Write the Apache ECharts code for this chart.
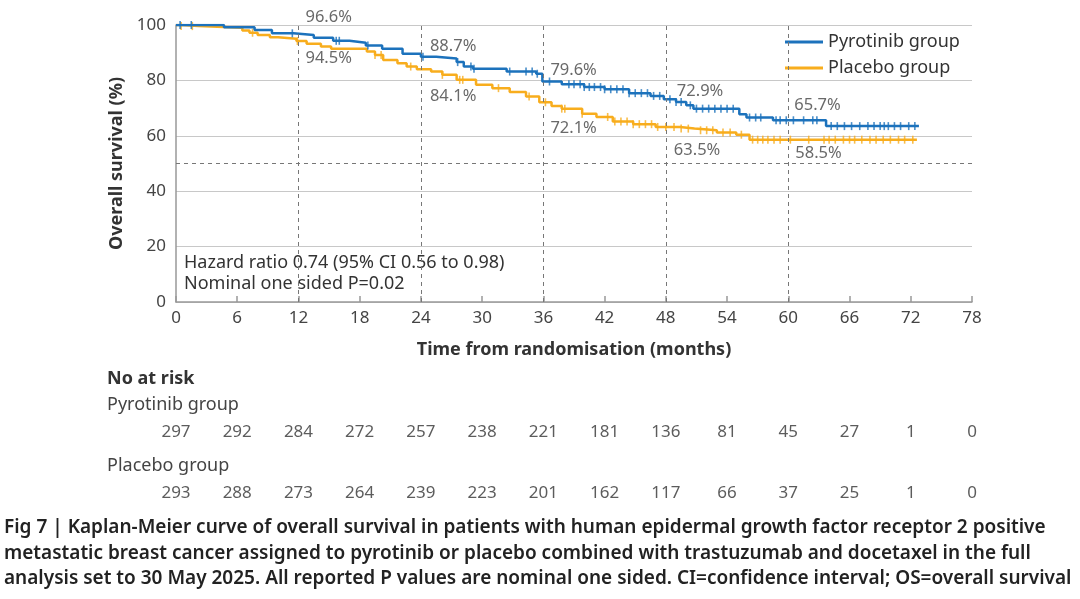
<!DOCTYPE html>
<html>
<head>
<meta charset="utf-8">
<title>Kaplan-Meier OS</title>
<script src="https://cdn.jsdelivr.net/npm/echarts@6/dist/echarts.min.js"></script>
<style>
  html, body { margin: 0; padding: 0; background: #fff; }
  #main { width: 1080px; height: 599px; }
</style>
</head>
<body>
<div id="main"></div>
<script>
// Kaplan-Meier 总生存曲线
var pyroTime = [0, 4.7, 7.7, 9.4, 11.5, 13.5, 15.4, 17.0, 18.6, 20.2, 22.2, 24.0, 25.5, 27.5, 28.2, 29.1, 32.4, 35.3, 35.9, 37.8, 40.0, 42.0, 44.4, 46.5, 47.8, 49.0, 50.0, 50.7, 55.2, 55.9, 58.5, 63.7, 72.8];
var pyroSurv = [100, 99.2, 98.2, 97.0, 96.4, 95.4, 94.3, 93.6, 92.6, 91.4, 89.6, 88.5, 87.9, 86.6, 85.0, 84.2, 83.2, 82.4, 79.6, 78.6, 77.6, 76.8, 75.4, 74.4, 73.2, 72.2, 71.0, 69.8, 67.8, 66.6, 65.6, 63.5, 63.5];
var placTime = [0, 0.5, 2.2, 6.5, 7.2, 8.0, 9.2, 10.0, 11.8, 12.8, 14.2, 15.2, 18.7, 19.5, 20.3, 21.7, 22.6, 23.6, 25.0, 26.1, 27.5, 29.4, 31.0, 32.7, 34.3, 35.6, 36.8, 37.8, 39.8, 41.2, 42.8, 44.8, 47.0, 49.4, 50.8, 53.0, 54.9, 56.2, 72.6];
var placSurv = [100, 99.6, 99.0, 98.0, 97.2, 96.4, 95.6, 95.0, 94.2, 93.2, 92.2, 91.4, 90.4, 89.2, 87.4, 86.2, 85.0, 84.0, 83.2, 82.0, 80.2, 78.4, 77.2, 75.8, 74.2, 72.1, 70.8, 69.8, 68.0, 66.8, 65.2, 64.2, 63.2, 62.6, 62.0, 61.2, 60.4, 58.6, 58.6];

// 删失时间
var pyroCensor = [0.4, 1.5, 11.4, 15.7, 16.0, 18.8, 24.2, 27.6, 28.9, 29.2, 32.7, 34.3, 34.9, 35.4, 36.6, 38.5, 39.0, 39.6, 40.0, 40.5, 41.0, 41.6, 42.0, 42.6, 43.2, 43.8, 44.4, 45.0, 45.6, 46.2, 46.8, 47.4, 48.4, 49.0, 49.5, 50.4, 51.0, 51.6, 52.2, 52.8, 53.4, 54.0, 54.6, 56.2, 56.8, 57.3, 58.8, 59.2, 59.8, 60.5, 61.5, 62.4, 62.8, 64.2, 64.8, 65.5, 66.2, 67.0, 67.8, 68.4, 69.0, 69.4, 69.8, 70.4, 71.0, 71.8, 72.4];
var placCensor = [0.5, 1.6, 7.5, 11.9, 19.5, 20.1, 23.0, 26.1, 27.8, 28.1, 31.6, 34.6, 36.2, 37.8, 38.1, 39.8, 42.3, 43.0, 43.6, 44.2, 44.8, 45.4, 46.0, 46.6, 47.2, 48.0, 48.8, 49.5, 50.2, 51.4, 52.0, 52.6, 53.6, 54.3, 55.4, 56.5, 57.0, 57.5, 58.0, 58.6, 59.2, 60.2, 62.0, 63.5, 64.0, 64.6, 65.4, 66.0, 66.5, 67.2, 68.0, 68.6, 69.3, 70.0, 70.8, 71.4, 72.2];

// 标志时间点
var landmarkTime = [12, 24, 36, 48, 60];
var pyroLandmark = [96.6, 88.7, 79.6, 72.9, 65.7];
var placLandmark = [94.5, 84.1, 72.1, 63.5, 58.5];

// 风险人数
var riskTime = [0, 6, 12, 18, 24, 30, 36, 42, 48, 54, 60, 66, 72, 78];
var pyroRisk = [297, 292, 284, 272, 257, 238, 221, 181, 136, 81, 45, 27, 1, 0];
var placRisk = [293, 288, 273, 264, 239, 223, 201, 162, 117, 66, 37, 25, 1, 0];
var groups = ['Pyrotinib group', 'Placebo group'];

var blue = '#1c72bc', orange = '#f8ad1d';
var font = 'Noto Sans';

function zip(xs, ys) {
    return xs.map(function (x, i) { return [x, ys[i]]; });
}
function survAt(times, surv, t) {
    var s = surv[0];
    for (var i = 0; i < times.length; i++) {
        if (times[i] <= t) s = surv[i];
    }
    return s;
}
function censorPoints(ct, times, surv) {
    return ct.map(function (t) { return [t, survAt(times, surv, t)]; });
}

// label offsets (layout only)
var pyroOffsets = [[7, -17], [9, -10], [7, -11], [11, -9], [6, -15]];
var placOffsets = [[7, 18], [9, 27], [7, 26], [8, 24], [7, 13]];
function landmarkData(vals, offsets) {
    return landmarkTime.map(function (t, i) {
        return {
            value: [t, vals[i]],
            label: { offset: offsets[i] }
        };
    });
}

function caption(text, top) {
    return { type: 'text', left: 4, top: top,
        style: { text: text, fontSize: 19, fontWeight: 600, fill: '#222', fontFamily: font } };
}

var myChart = echarts.init(document.getElementById('main'));
var option = {
    animation: false,
    textStyle: { fontFamily: font },
    grid: [
        { left: 176, right: 108, top: 25, bottom: 297 },
        { left: 176, right: 108, top: 402, height: 122 }
    ],
    legend: {
        orient: 'vertical',
        left: 780,
        top: 28,
        itemWidth: 38,
        itemHeight: 3,
        itemGap: 8,
        icon: 'rect',
        textStyle: { fontSize: 18, color: '#333', fontFamily: font },
        data: [
            { name: groups[0], itemStyle: { color: blue } },
            { name: groups[1], itemStyle: { color: orange } }
        ]
    },
    xAxis: [{
        type: 'value', gridIndex: 0,
        min: 0, max: 78, interval: 6,
        name: 'Time from randomisation (months)',
        nameLocation: 'middle', nameGap: 39,
        nameTextStyle: { fontSize: 18, fontWeight: 'bold', color: '#333' },
        axisLine: { lineStyle: { color: '#999', width: 1.5 } },
        axisTick: { inside: true, length: 6, lineStyle: { color: '#999', width: 1.5 } },
        axisLabel: { fontSize: 17, color: '#444', margin: 8 },
        splitLine: { show: false }
    }, {
        type: 'value', gridIndex: 1,
        min: 0, max: 78, show: false
    }],
    yAxis: [{
        type: 'value', gridIndex: 0,
        min: 0, max: 100, interval: 20,
        name: 'Overall survival (%)',
        nameLocation: 'middle', nameGap: 47,
        nameTextStyle: { fontSize: 18, fontWeight: 'bold', color: '#333' },
        axisLine: { show: true, lineStyle: { color: '#999', width: 1.5 } },
        axisTick: { show: false },
        axisLabel: { fontSize: 17, color: '#444', margin: 10 },
        splitLine: { lineStyle: { color: '#c8c8c8', width: 1.2 } }
    }, {
        type: 'category', gridIndex: 1,
        data: groups, inverse: true, show: false
    }],
    graphic: [
        { type: 'text', left: 184, top: 254, style: { text: 'Hazard ratio 0.74 (95% CI 0.56 to 0.98)', fontSize: 18, fill: '#333', fontFamily: font } },
        { type: 'text', left: 184, top: 275, style: { text: 'Nominal one sided P=0.02', fontSize: 18, fill: '#333', fontFamily: font } },
        { type: 'text', left: 107, top: 370, style: { text: 'No at risk', fontSize: 18, fontWeight: 'bold', fill: '#333', fontFamily: font } },
        { type: 'text', left: 107, top: 396, style: { text: groups[0], fontSize: 18, fill: '#444', fontFamily: font } },
        { type: 'text', left: 107, top: 457, style: { text: groups[1], fontSize: 18, fill: '#444', fontFamily: font } },
        caption('Fig 7 | Kaplan-Meier curve of overall survival in patients with human epidermal growth factor receptor 2 positive', 518),
        caption('metastatic breast cancer assigned to pyrotinib or placebo combined with trastuzumab and docetaxel in the full', 544),
        caption('analysis set to 30 May 2025. All reported P values are nominal one sided. CI=confidence interval; OS=overall survival', 569)
    ],
    series: [{
        name: groups[1],
        type: 'line', step: 'end',
        showSymbol: false,
        lineStyle: { color: orange, width: 2.5 },
        itemStyle: { color: orange },
        data: zip(placTime, placSurv),
        z: 3
    }, {
        name: groups[0],
        type: 'line', step: 'end',
        showSymbol: false,
        lineStyle: { color: blue, width: 2.5 },
        itemStyle: { color: blue },
        data: zip(pyroTime, pyroSurv),
        z: 4,
        markLine: {
            silent: true,
            symbol: 'none',
            label: { show: false },
            lineStyle: { color: '#777', type: [4, 4], width: 1 },
            data: landmarkTime.map(function (t) { return { xAxis: t }; }).concat([{ yAxis: 50 }])
        }
    }, {
        name: groups[1] + ' censored',
        type: 'scatter',
        symbol: 'rect', symbolSize: [1.6, 8],
        itemStyle: { color: orange },
        data: censorPoints(placCensor, placTime, placSurv),
        z: 3
    }, {
        name: groups[0] + ' censored',
        type: 'scatter',
        symbol: 'rect', symbolSize: [1.6, 8],
        itemStyle: { color: blue },
        data: censorPoints(pyroCensor, pyroTime, pyroSurv),
        z: 4
    }, {
        type: 'scatter', symbolSize: 0, silent: true,
        label: { show: true, position: 'right', distance: 0, fontSize: 16.5, color: '#444',
            formatter: function (p) { return p.value[1].toFixed(1) + '%'; } },
        data: landmarkData(pyroLandmark, pyroOffsets)
    }, {
        type: 'scatter', symbolSize: 0, silent: true,
        label: { show: true, position: 'right', distance: 0, fontSize: 16.5, color: '#444',
            formatter: function (p) { return p.value[1].toFixed(1) + '%'; } },
        data: landmarkData(placLandmark, placOffsets)
    }, {
        type: 'scatter', xAxisIndex: 1, yAxisIndex: 1,
        symbolSize: 0, silent: true,
        label: { show: true, position: 'inside', fontSize: 17, color: '#333',
            formatter: function (p) { return p.value[2]; } },
        data: riskTime.map(function (t, i) { return [t, groups[0], pyroRisk[i]]; })
            .concat(riskTime.map(function (t, i) { return [t, groups[1], placRisk[i]]; }))
    }]
};
myChart.setOption(option);
</script>
</body>
</html>
